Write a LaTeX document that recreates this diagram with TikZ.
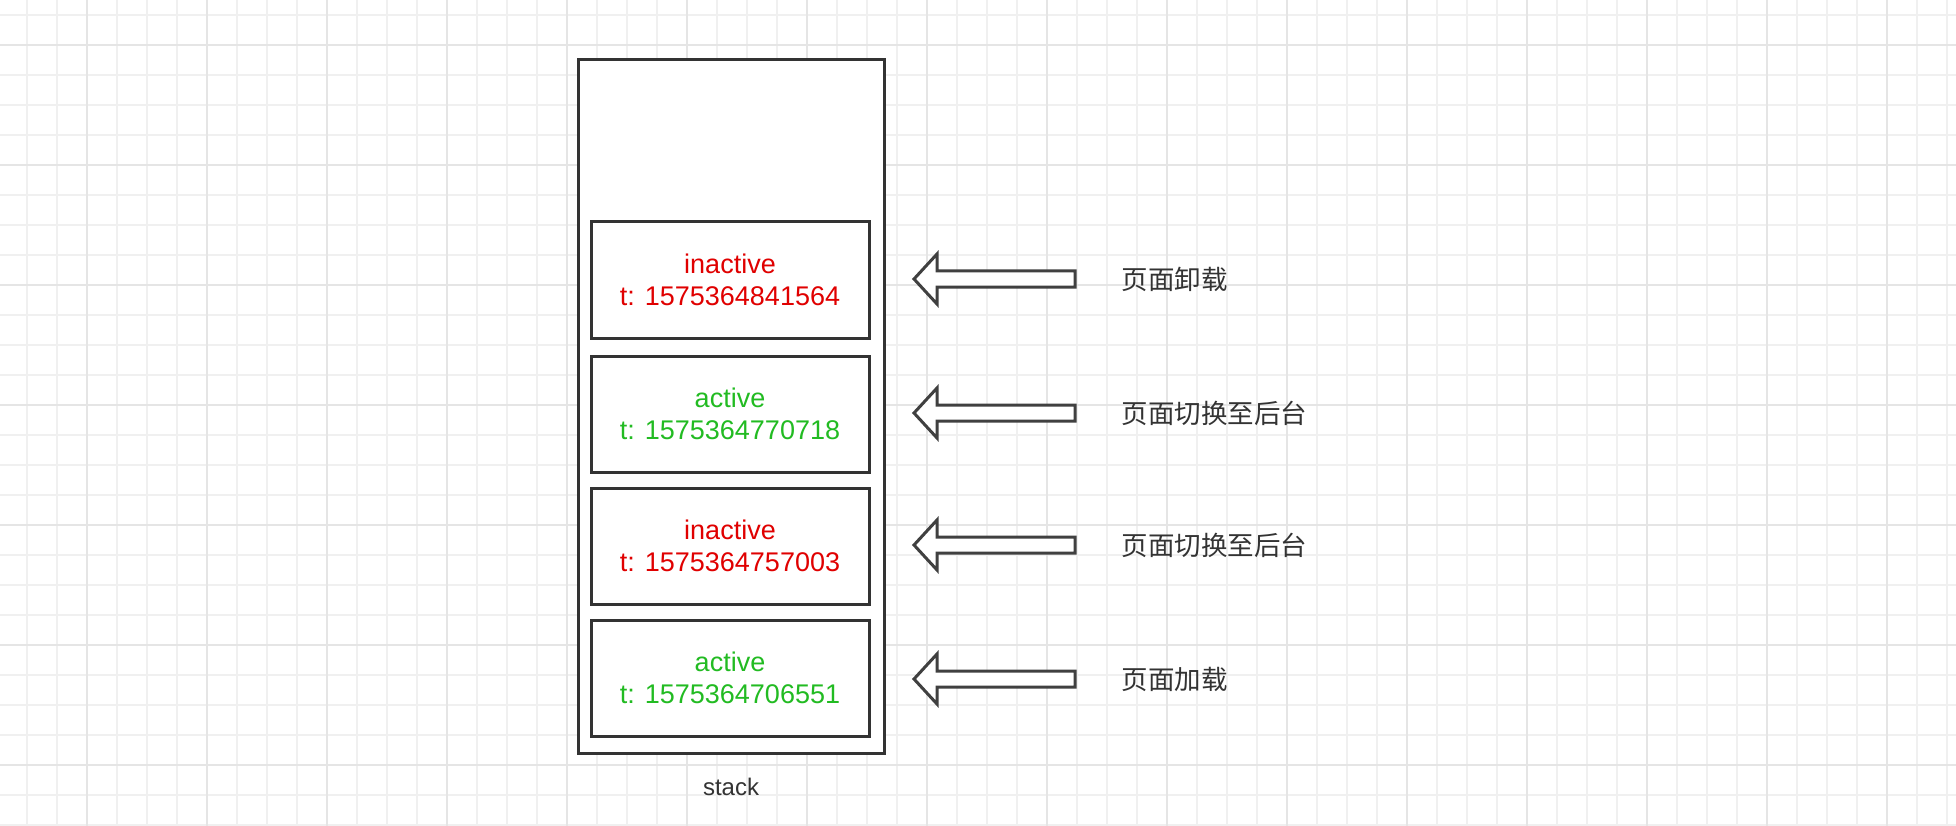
\documentclass[tikz,border=0pt]{standalone}
\usepackage{fontspec}
\setmainfont{Liberation Sans}
\newfontfamily\cjk{Noto Sans CJK SC}
\begin{document}
\begin{tikzpicture}[x=1pt,y=-1pt,
  box/.style={draw=black!80,line width=3pt,fill=white},
  st/.style={font=\fontsize{27}{32}\selectfont,align=center},
  lab/.style={font=\cjk\fontsize{26.5}{30}\selectfont,anchor=west,text=black!80},
  barrow/.style={draw=black!75,line width=3pt,fill=white,line join=miter}]
\useasboundingbox (0,0) rectangle (1956,826);
\fill[white] (0,0) rectangle (1956,826);
\foreach \x in {27,57,...,1956} \draw[black!6,line width=1.5pt] (\x,0) -- (\x,826);
\foreach \y in {15,45,...,826} \draw[black!6,line width=1.5pt] (0,\y) -- (1956,\y);
\foreach \x in {87,207,...,1956} \draw[black!10,line width=1.5pt] (\x,0) -- (\x,826);
\foreach \y in {45,165,...,826} \draw[black!10,line width=1.5pt] (0,\y) -- (1956,\y);
\draw[box] (578,60) rectangle (884,753);
\node[st,font=\fontsize{24}{28}\selectfont] (stack) at (731,787) {\textcolor{black!80}{stack}};
\definecolor{rd}{HTML}{E00000}\definecolor{gn}{HTML}{22BB22}
\foreach \t/\c/\s/\n [count=\i] in {222/rd/inactive/1575364841564,356/gn/active/1575364770718,488/rd/inactive/1575364757003,620/gn/active/1575364706551}{
  \draw[box] (591,\t) rectangle (869,\t+116);
  \node[st,text=\c] (b\i) at (730,\t+58) {\s\\t: \n};
}
\foreach \y/\l [count=\i] in {279/页面卸载,413/页面切换至后台,545/页面切换至后台,679/页面加载}{
  \draw[barrow] (914,\y) -- (937,\y-25) -- (937,\y-8) -- (1075,\y-8) -- (1075,\y+8) -- (937,\y+8) -- (937,\y+25) -- cycle;
  \node[lab] (l\i) at (1118,\y) {\l};
}
\end{tikzpicture}
\end{document}
